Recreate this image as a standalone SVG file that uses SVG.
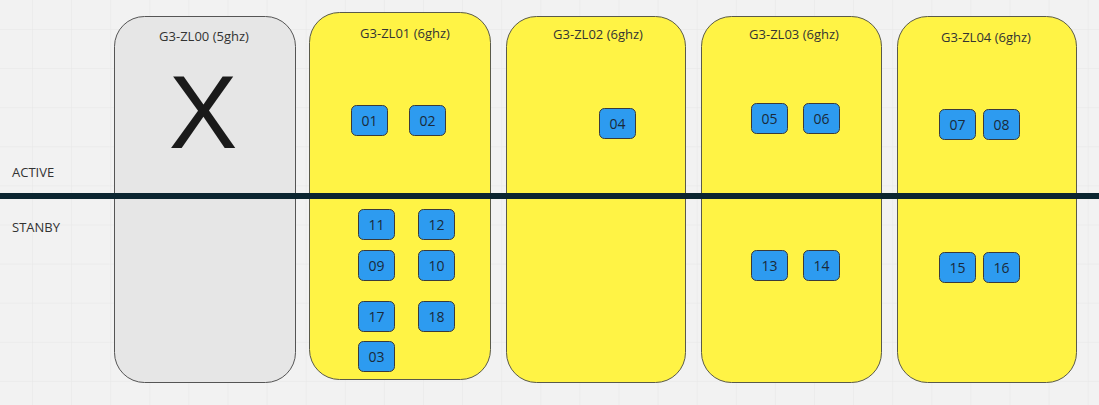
<svg xmlns="http://www.w3.org/2000/svg" width="1099" height="405" viewBox="0 0 1099 405">
<defs>
<style>
.bg{fill:#f2f2f2}
.g{stroke:#e6e6e6;stroke-width:1}
.col{fill:#fff345;stroke:#5a5a4a;stroke-width:1}
.colx{fill:#e6e6e6;stroke:#555;stroke-width:1}
.title{font-family:"Open Sans","Liberation Sans",sans-serif;font-size:13px;fill:#333;text-anchor:middle}
.box{fill:#2d9bf0;stroke:#3a3a3a;stroke-width:1}
.bt{font-family:"Open Sans","Liberation Sans",sans-serif;font-size:14px;fill:#1a2a3a;text-anchor:middle}
.lab{font-family:"Open Sans","Liberation Sans",sans-serif;font-size:13px;fill:#333}
</style>
<pattern id="grid" x="32" y="29" width="39.1" height="39.1" patternUnits="userSpaceOnUse">
<path d="M0 0V39.1M0 0H39.1" class="g" fill="none"/>
</pattern>
</defs>
<rect class="bg" width="1099" height="405"/>
<rect width="1099" height="405" fill="url(#grid)"/>
<g id="columns">
<g id="col-zl00"><rect class="colx" x="114.5" y="16.5" width="181" height="366" rx="30"/><text class="title" x="204" y="41">G3-ZL00 (5ghz)</text><text x="203" y="148" font-family="'Liberation Sans',Arial,sans-serif" font-size="103" fill="#1a1a1a" text-anchor="middle">X</text></g>
<g id="col-zl01"><rect class="col" x="309.5" y="12.5" width="181" height="367" rx="30"/><text class="title" x="405" y="38">G3-ZL01 (6ghz)</text></g>
<g id="col-zl02"><rect class="col" x="506.5" y="16.5" width="179" height="366" rx="30"/><text class="title" x="598" y="39">G3-ZL02 (6ghz)</text></g>
<g id="col-zl03"><rect class="col" x="701.5" y="16.5" width="180" height="366" rx="30"/><text class="title" x="794" y="39">G3-ZL03 (6ghz)</text></g>
<g id="col-zl04"><rect class="col" x="897.5" y="16.5" width="179" height="366" rx="30"/><text class="title" x="986" y="42">G3-ZL04 (6ghz)</text></g>
</g>
<g id="divider"><rect x="0" y="193" width="1099" height="6" fill="#0b2530"/></g>
<g id="labels">
<text class="lab" x="12" y="177">ACTIVE</text>
<text class="lab" x="12" y="232">STANBY</text>
</g>
<g id="nodes">
<g id="n01"><rect class="box" x="351.5" y="105.5" width="36" height="30" rx="5"/><text class="bt" x="369.5" y="125.5">01</text></g>
<g id="n02"><rect class="box" x="409.5" y="105.5" width="36" height="30" rx="5"/><text class="bt" x="427.5" y="125.5">02</text></g>
<g id="n04"><rect class="box" x="599.5" y="108.5" width="36" height="30" rx="5"/><text class="bt" x="617.5" y="128.5">04</text></g>
<g id="n05"><rect class="box" x="751.5" y="103.5" width="36" height="30" rx="5"/><text class="bt" x="769.5" y="123.5">05</text></g>
<g id="n06"><rect class="box" x="803.5" y="103.5" width="36" height="30" rx="5"/><text class="bt" x="821.5" y="123.5">06</text></g>
<g id="n07"><rect class="box" x="939.5" y="109.5" width="36" height="30" rx="5"/><text class="bt" x="957.5" y="129.5">07</text></g>
<g id="n08"><rect class="box" x="983.5" y="109.5" width="36" height="30" rx="5"/><text class="bt" x="1001.5" y="129.5">08</text></g>
<g id="n11"><rect class="box" x="358.5" y="209.5" width="36" height="30" rx="5"/><text class="bt" x="376.5" y="229.5">11</text></g>
<g id="n12"><rect class="box" x="418.5" y="209.5" width="36" height="30" rx="5"/><text class="bt" x="436.5" y="229.5">12</text></g>
<g id="n09"><rect class="box" x="358.5" y="250.5" width="36" height="30" rx="5"/><text class="bt" x="376.5" y="270.5">09</text></g>
<g id="n10"><rect class="box" x="418.5" y="250.5" width="36" height="30" rx="5"/><text class="bt" x="436.5" y="270.5">10</text></g>
<g id="n17"><rect class="box" x="358.5" y="301.5" width="36" height="30" rx="5"/><text class="bt" x="376.5" y="321.5">17</text></g>
<g id="n18"><rect class="box" x="418.5" y="301.5" width="36" height="30" rx="5"/><text class="bt" x="436.5" y="321.5">18</text></g>
<g id="n03"><rect class="box" x="358.5" y="341.5" width="36" height="30" rx="5"/><text class="bt" x="376.5" y="361.5">03</text></g>
<g id="n13"><rect class="box" x="751.5" y="250.5" width="36" height="30" rx="5"/><text class="bt" x="769.5" y="270.5">13</text></g>
<g id="n14"><rect class="box" x="803.5" y="250.5" width="36" height="30" rx="5"/><text class="bt" x="821.5" y="270.5">14</text></g>
<g id="n15"><rect class="box" x="939.5" y="252.5" width="36" height="30" rx="5"/><text class="bt" x="957.5" y="272.5">15</text></g>
<g id="n16"><rect class="box" x="983.5" y="252.5" width="36" height="30" rx="5"/><text class="bt" x="1001.5" y="272.5">16</text></g>
</g>
<g id="connectors"/>
</svg>
